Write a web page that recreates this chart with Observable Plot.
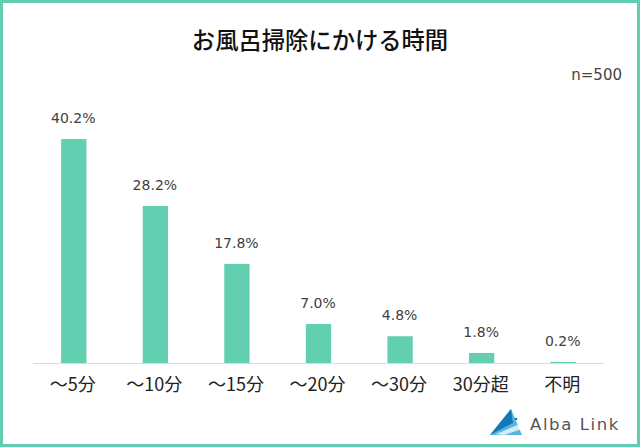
<!DOCTYPE html>
<html lang="ja"><head><meta charset="utf-8">
<script src="https://cdn.jsdelivr.net/npm/d3@7"></script>
<script src="https://cdn.jsdelivr.net/npm/@observablehq/plot@0.6"></script>
<style>
html,body{margin:0;padding:0;background:#fff}
#wrap{position:relative;width:640px;height:447px;overflow:hidden;background:#fff}
#wrap svg.chart{position:absolute;left:0;top:0}
#frame{position:absolute;inset:0;border:3.5px solid #62cdb0;box-sizing:border-box;pointer-events:none}
#title{position:absolute;left:0;width:640px;top:24px;text-align:center;font:500 23.3px "Noto Sans CJK JP";color:#111;line-height:30px}
#n{position:absolute;right:18px;top:66px;font:15px "DejaVu Sans";color:#444;line-height:18px}
#logo{position:absolute;left:490px;top:409px;width:33px;height:27px}
#brand{position:absolute;left:530px;top:415px;font:500 16.5px "DejaVu Sans";letter-spacing:1.6px;color:#555;line-height:20px;white-space:nowrap}
</style></head><body>
<div id="wrap">
<div id="title">お風呂掃除にかける時間</div>
<div id="n">n=500</div>
<svg id="logo" viewBox="0 0 33 27">
<polygon points="0,26 21,0 32,26" fill="#58b4e0"/>
<polygon points="0,26 21,0 23,14" fill="#1477b8"/>
<polygon points="6,25 30,15 32,20 14,26" fill="#fff" opacity=".75"/>
<circle cx="26" cy="10" r="1.3" fill="#1477b8"/>
</svg>
<div id="brand">Alba Link</div>
<div id="frame"></div>
</div>
<script>
const categories = ["〜5分","〜10分","〜15分","〜20分","〜30分","30分超","不明"];
const values = [40.2,28.2,17.8,7.0,4.8,1.8,0.2];
const labels = ["40.2%","28.2%","17.8%","7.0%","4.8%","1.8%","0.2%"];
const rows = categories.map((c,i)=>({c,v:values[i],l:labels[i]}));
const chart = Plot.plot({
  width:640,height:447,marginTop:0,marginBottom:84,marginLeft:33,marginRight:36,
  style:{background:"transparent",overflow:"visible"},
  x:{domain:categories,paddingInner:0.69,paddingOuter:0.345,round:false,label:null},
  y:{domain:[0,45],axis:null,range:[363,112.35]},
  marks:[
    Plot.barY(rows,{x:"c",y:"v",fill:"#62cfb0"}),
    Plot.ruleY([0],{stroke:"#dcdcdc",strokeWidth:1}),
    Plot.text(rows,{x:"c",y:"v",text:"l",dy:-21,dx:-1,fontFamily:"DejaVu Sans",fontSize:14,fill:"#404040"}),
    Plot.axisX({tickSize:0,tickPadding:15,dx:-1.5,fontSize:18,fontFamily:"Noto Sans CJK JP",color:"#222",label:null})
  ]
});
chart.classList.add("chart");
document.getElementById("wrap").prepend(chart);
</script>
</body></html>
